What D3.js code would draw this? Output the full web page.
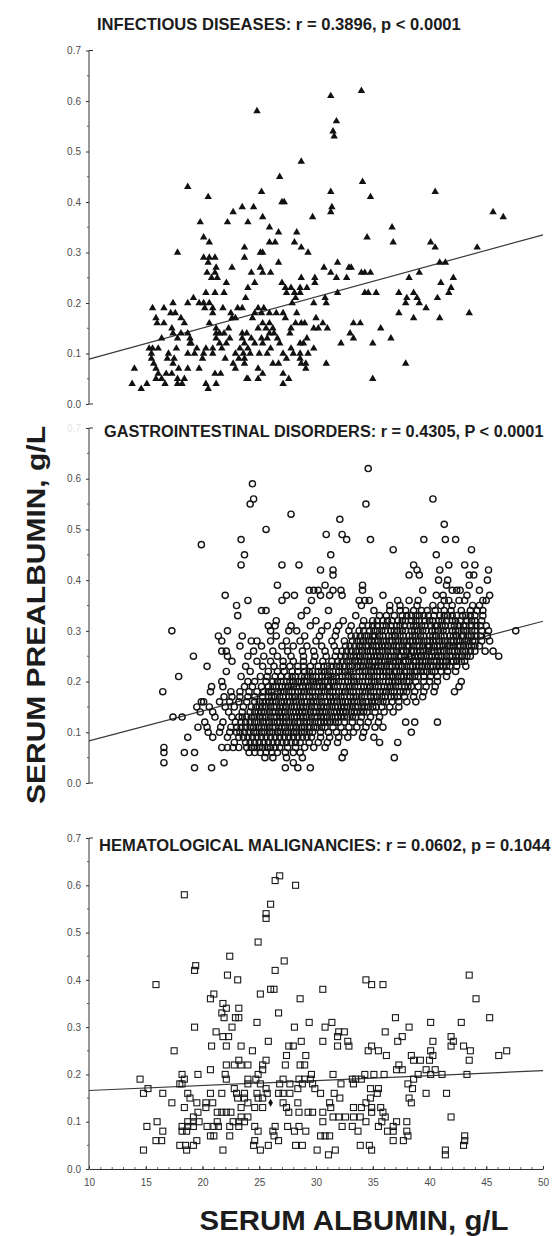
<!DOCTYPE html>
<meta charset="utf-8">
<style>
  body { margin: 0; background: #fff; }
  text { font-family: "Liberation Sans", Arial, sans-serif; }
  .tick text { fill: #4d4d4d; font-size: 10px; }
</style>
<body>
<script src="https://d3js.org/d3.v7.min.js"></script>
<script>
    // chart values
    var titles = [
        "INFECTIOUS DISEASES: r = 0.3896, p < 0.0001",
        "GASTROINTESTINAL DISORDERS: r = 0.4305, P < 0.0001",
        "HEMATOLOGICAL MALIGNANCIES: r = 0.0602, p = 0.1044"
    ];
    var xTitle = "SERUM ALBUMIN, g/L";
    var yTitle = "SERUM PREALBUMIN, g/L";
    var xTicks = [10, 15, 20, 25, 30, 35, 40, 45, 50];
    var yTicks = [0, 0.1, 0.2, 0.3, 0.4, 0.5, 0.6, 0.7];

    // [albumin, prealbumin]
    var infectious = [
        [34.0,.62],[31.3,.61],[24.8,.58],[31.8,.56],[31.5,.54],[31.6,.53],[28.7,.48],[26.8,.45],[34.1,.44],[18.7,.43],
        [20.5,.41],[25.2,.42],[31.3,.42],[34.8,.41],[40.5,.42],[27.0,.40],[27.2,.40],[31.4,.39],[31.3,.38],[23.5,.39],
        [24.5,.39],[22.7,.38],[19.8,.36],[22.2,.36],[24.0,.36],[25.3,.37],[29.7,.37],[45.6,.38],[46.5,.37],[36.7,.35],
        [25.9,.35],[26.7,.34],[28.3,.34],[20.1,.33],[34.5,.33],[20.6,.32],[25.9,.32],[26.4,.32],[28.1,.32],[36.8,.32],
        [40.1,.32],[40.5,.31],[23.7,.31],[28.7,.31],[44.2,.31],[17.8,.30],[25.1,.30],[25.3,.30],[29.3,.30],[20.1,.29],
        [20.6,.29],[21.1,.29],[23.7,.29],[20.5,.28],[26.7,.28],[31.9,.28],[40.9,.28],[41.4,.28],[22.6,.27],[21.2,.27],
        [25.1,.27],[30.7,.27],[32.9,.27],[33.1,.27],[20.4,.26],[21.1,.26],[24.3,.26],[25.3,.26],[26.0,.26],[31.3,.26],
        [34.0,.26],[34.3,.26],[34.8,.26],[39.1,.26],[20.8,.25],[21.3,.25],[28.7,.25],[29.9,.25],[31.8,.25],[32.7,.25],
        [38.2,.25],[42.1,.25],[24.6,.24],[29.9,.24],[27.0,.24],[41.0,.24],[22.1,.24],[27.3,.23],[27.8,.23],[28.6,.23],
        [29.2,.23],[24.0,.23],[41.9,.23],[20.3,.22],[21.1,.22],[21.9,.22],[27.4,.22],[28.1,.22],[28.6,.22],[31.9,.22],
        [34.3,.22],[34.6,.22],[35.3,.22],[37.3,.22],[38.6,.22],[41.7,.22],[19.2,.21],[23.8,.21],[28.2,.21],[30.8,.21],
        [38.0,.21],[38.9,.21],[40.7,.21],[18.7,.20],[19.7,.20],[20.1,.20],[20.6,.20],[27.9,.20],[29.8,.20],[30.9,.20],
        [37.9,.20],[39.1,.20],[17.4,.20],[15.6,.19],[16.6,.19],[20.2,.19],[20.9,.19],[21.8,.19],[23.1,.19],[23.5,.19],
        [24.9,.19],[25.4,.19],[39.7,.19],[17.2,.18],[17.6,.18],[20.9,.18],[22.5,.18],[24.6,.18],[25.2,.18],[25.9,.18],
        [26.5,.18],[27.1,.18],[28.3,.18],[37.3,.18],[43.5,.18],[15.9,.17],[18.1,.17],[22.6,.17],[22.9,.17],[27.3,.17],
        [30.0,.17],[38.6,.17],[40.9,.17],[16.0,.16],[16.6,.16],[18.4,.16],[20.6,.16],[25.3,.16],[25.9,.16],[28.2,.16],
        [28.7,.16],[29.0,.16],[30.6,.16],[33.3,.16],[33.9,.16],[17.3,.15],[21.2,.15],[24.9,.15],[25.6,.15],[26.2,.15],
        [29.8,.15],[30.2,.15],[31.0,.15],[35.7,.15],[17.4,.14],[18.1,.14],[18.7,.14],[21.2,.14],[21.5,.14],[21.9,.14],
        [23.5,.14],[23.9,.14],[25.9,.14],[26.3,.14],[27.7,.14],[33.0,.14],[16.4,.13],[17.8,.13],[18.9,.13],[21.2,.13],
        [22.4,.13],[23.5,.13],[24.3,.13],[25.2,.13],[25.7,.13],[29.2,.13],[33.3,.13],[36.6,.13],[18.9,.12],[21.5,.12],
        [22.1,.12],[23.7,.12],[24.6,.12],[25.3,.12],[26.8,.12],[28.6,.12],[28.9,.12],[32.2,.12],[35.0,.12],[15.3,.11],
        [15.6,.11],[16.1,.11],[17.7,.11],[19.5,.11],[20.3,.11],[20.9,.11],[21.7,.11],[23.3,.11],[24.0,.11],[27.8,.11],
        [29.8,.11],[15.5,.10],[17.0,.10],[18.7,.10],[20.1,.10],[20.9,.10],[22.9,.10],[23.6,.10],[24.2,.10],[25.0,.10],
        [25.7,.10],[27.1,.10],[28.0,.10],[28.6,.10],[29.3,.10],[15.5,.09],[16.9,.09],[17.5,.09],[20.0,.09],[23.2,.09],
        [23.7,.09],[27.4,.09],[28.6,.09],[15.7,.08],[17.4,.08],[22.7,.08],[23.7,.08],[26.2,.08],[26.7,.08],[28.7,.08],
        [29.1,.08],[30.9,.08],[37.9,.08],[14.0,.07],[15.9,.07],[17.9,.07],[18.7,.07],[19.7,.07],[22.9,.07],[24.9,.07],
        [29.1,.07],[16.1,.06],[16.8,.06],[17.3,.06],[21.1,.06],[21.6,.06],[25.3,.06],[27.1,.06],[15.9,.05],[16.4,.05],
        [17.8,.05],[18.4,.05],[23.9,.05],[24.0,.05],[24.9,.05],[27.6,.05],[35.0,.05],[13.8,.04],[15.1,.04],[16.7,.04],
        [17.8,.04],[18.2,.04],[20.3,.04],[21.2,.04],[27.1,.04],[14.6,.03],[20.5,.03],[19.0,.12],[19.3,.10],[22.3,.15],
        [24.4,.17],[26.6,.13],[27.8,.15],[22.0,.09],[26.0,.11]
    ];

    // [prealbumin, albumin values at that level]
    var gastroRows = [
        [.62, [34.6]],
        [.59, [24.4]],
        [.56, [24.5, 40.3]],
        [.55, [24.2, 34.4]],
        [.53, [27.8]],
        [.52, [32.1]],
        [.51, [41.3]],
        [.50, [25.6]],
        [.49, [30.9, 32.3]],
        [.48, [23.4, 32.7, 34.8, 39.5, 41.4, 42.3]],
        [.47, [19.9]],
        [.46, [36.8, 43.7]],
        [.45, [23.7, 31.3, 40.6]],
        [.43, [23.4, 27.0, 28.5, 38.6, 41.7, 43.1, 44.0]],
        [.42, [30.4, 31.5, 38.9, 40.9, 45.2]],
        [.41, [31.5, 38.2, 39.1, 43.5, 43.9]],
        [.40, [40.8, 41.6, 45.1]],
        [.39, [26.6, 30.8, 34.1, 41.5, 43.5]],
        [.38, [29.4, 29.8, 30.2, 31.5, 32.2, 34.1, 39.4, 42.0, 42.4, 42.7, 44.4]],
        [.37, [22.0, 27.4, 28.1, 30.4, 31.2, 32.3, 35.9, 40.6, 41.2, 43.3, 45.3]],
        [.36, [24.0, 27.0, 29.6, 33.8, 34.3, 34.7, 37.2, 38.2, 39.0, 41.3, 41.7, 42.6, 43.1, 44.7, 45.0]],
        [.35, [23.0, 34.0, 36.5, 37.4, 38.9, 40.3, 41.0, 42.0, 43.8, 44.4]],
        [.34, [25.2, 25.6, 29.2, 31.1, 35.1, 36.5, 37.4, 37.9, 38.6, 39.3, 39.8, 40.5, 41.3, 41.9, 42.8, 43.6, 44.2, 44.7]],
        [.33, [23.1, 28.7, 33.5, 35.6, 36.2, 36.9, 37.6, 38.0, 38.4, 38.8, 39.1, 39.5, 39.9, 40.4, 40.9, 41.3, 41.6, 42.0, 42.4, 42.9, 43.2, 43.6, 44.0, 44.7]],
        [.32, [26.5, 30.0, 32.4, 34.2, 35.0, 35.4, 35.9, 36.3, 36.7, 37.2, 37.6, 37.9, 38.4, 38.8, 39.1, 39.6, 40.0, 40.3, 40.8, 41.1, 41.5, 42.0, 42.3, 42.7, 43.3, 43.7, 44.0, 44.6]],
        [.31, [25.8, 26.4, 27.8, 29.5, 31.0, 32.0, 33.1, 34.1, 34.6, 35.0, 35.4, 35.9, 36.2, 36.6, 37.1, 37.4, 37.8, 38.3, 38.6, 38.9, 39.3, 39.6, 40.1, 40.5, 40.7, 41.1, 41.4, 41.9, 42.2, 42.6, 43.0, 43.2, 43.7, 44.1, 44.5, 45.0]],
        [.30, [17.3, 22.2, 26.0, 27.6, 28.3, 30.5, 31.8, 32.9, 33.8, 34.2, 34.7, 35.1, 35.4, 35.8, 36.1, 36.6, 36.9, 37.2, 37.6, 37.9, 38.4, 38.7, 39.0, 39.4, 39.7, 40.2, 40.5, 40.8, 41.2, 41.5, 42.0, 42.3, 42.6, 43.0, 43.3, 43.7, 44.0, 44.6, 45.2, 47.6]],
        [.29, [21.4, 23.5, 26.5, 29.0, 30.3, 31.7, 33.1, 33.5, 33.9, 34.3, 34.6, 35.0, 35.2, 35.6, 35.9, 36.4, 36.7, 37.0, 37.4, 37.7, 38.2, 38.5, 38.8, 39.2, 39.5, 40.0, 40.3, 40.6, 41.0, 41.3, 41.8, 42.1, 42.4, 42.8, 43.0, 43.4, 43.7, 44.1, 44.5, 45.1]],
        [.28, [21.7, 24.3, 24.8, 26.0, 27.4, 28.6, 30.0, 31.4, 32.5, 33.2, 33.6, 33.9, 34.2, 34.6, 34.9, 35.2, 35.5, 35.9, 36.2, 36.5, 36.7, 37.0, 37.3, 37.7, 38.0, 38.3, 38.5, 38.8, 39.1, 39.5, 39.8, 40.0, 40.3, 40.6, 40.9, 41.3, 41.6, 41.9, 42.1, 42.4, 42.7, 43.1, 43.4, 43.8, 44.0, 44.6, 45.3]],
        [.27, [23.3, 25.2, 27.0, 28.0, 29.2, 30.5, 31.6, 32.6, 33.0, 33.4, 33.8, 34.1, 34.4, 34.6, 35.0, 35.3, 35.5, 35.8, 36.1, 36.4, 36.8, 37.1, 37.3, 37.6, 38.0, 38.2, 38.6, 38.9, 39.1, 39.4, 39.8, 40.0, 40.4, 40.7, 40.9, 41.2, 41.6, 41.8, 42.1, 42.5, 42.7, 43.0, 43.4, 43.7, 44.0, 44.4]],
        [.26, [21.7, 22.1, 24.5, 26.2, 27.5, 28.8, 29.8, 30.8, 31.8, 32.3, 32.7, 33.1, 33.5, 33.8, 34.1, 34.5, 34.8, 35.0, 35.3, 35.6, 35.9, 36.3, 36.6, 36.8, 37.1, 37.5, 37.7, 38.0, 38.4, 38.6, 38.9, 39.2, 39.5, 39.9, 40.2, 40.4, 40.7, 41.0, 41.3, 41.7, 42.0, 42.2, 42.5, 42.9, 43.2, 43.6, 44.0, 44.9, 45.6]],
        [.25, [19.2, 22.2, 24.0, 25.4, 26.6, 27.8, 28.9, 29.9, 30.9, 31.7, 32.2, 32.6, 33.0, 33.3, 33.6, 33.9, 34.3, 34.6, 34.8, 35.1, 35.4, 35.7, 36.1, 36.4, 36.6, 36.9, 37.3, 37.5, 37.8, 38.2, 38.4, 38.7, 39.0, 39.3, 39.7, 40.0, 40.2, 40.5, 40.8, 41.1, 41.5, 41.8, 42.0, 42.3, 42.6, 42.9, 43.3, 43.6, 46.1]],
        [.24, [22.6, 24.8, 26.0, 27.1, 28.0, 28.9, 29.8, 30.6, 31.4, 31.9, 32.3, 32.7, 33.0, 33.4, 33.7, 34.0, 34.3, 34.7, 35.0, 35.2, 35.5, 35.8, 36.1, 36.5, 36.8, 37.0, 37.3, 37.7, 37.9, 38.2, 38.6, 38.8, 39.1, 39.4, 39.7, 40.1, 40.4, 40.6, 40.9, 41.2, 41.5, 41.9, 42.1, 42.4, 42.8, 43.1]],
        [.23, [20.4, 23.8, 25.3, 26.3, 27.1, 27.7, 28.4, 28.9, 29.5, 30.2, 30.7, 31.0, 31.4, 31.8, 32.1, 32.5, 32.9, 33.2, 33.6, 33.9, 34.2, 34.6, 34.9, 35.2, 35.5, 35.8, 36.2, 36.5, 36.7, 37.0, 37.3, 37.6, 38.0, 38.3, 38.5, 38.8, 39.1, 39.4, 39.8, 40.1, 40.3, 40.6, 40.9, 41.2, 41.5, 41.8, 42.4, 43.2]],
        [.22, [22.1, 24.2, 25.8, 26.6, 27.2, 27.9, 28.4, 29.0, 29.4, 29.7, 30.2, 30.5, 30.8, 31.2, 31.5, 32.0, 32.3, 32.6, 33.0, 33.3, 33.8, 34.1, 34.4, 34.8, 35.1, 35.4, 35.6, 35.9, 36.2, 36.5, 36.9, 37.1, 37.4, 37.8, 38.0, 38.3, 38.7, 38.9, 39.2, 39.5, 39.8, 40.2, 40.5, 41.0, 41.6, 42.3]],
        [.21, [17.9, 23.4, 25.1, 25.7, 26.4, 26.9, 27.5, 27.9, 28.2, 28.7, 29.0, 29.3, 29.7, 30.0, 30.5, 30.8, 31.1, 31.5, 31.8, 32.3, 32.6, 32.9, 33.3, 33.6, 34.1, 34.4, 34.7, 35.1, 35.4, 35.9, 36.2, 36.5, 36.8, 37.2, 37.5, 37.7, 38.0, 38.3, 38.7, 39.0, 39.5, 40.1, 40.7, 41.5]],
        [.20, [21.7, 24.0, 24.6, 25.6, 26.2, 26.6, 26.9, 27.4, 27.7, 28.0, 28.4, 28.7, 29.0, 29.2, 29.5, 29.8, 30.2, 30.5, 30.8, 31.0, 31.3, 31.6, 32.0, 32.3, 32.8, 33.1, 33.4, 33.8, 34.1, 34.6, 34.9, 35.2, 35.6, 35.9, 36.4, 36.7, 37.0, 37.3, 37.7, 38.0, 38.2, 38.8, 39.5, 40.0, 40.7, 42.8]],
        [.19, [20.8, 21.8, 23.7, 24.4, 25.2, 25.8, 26.2, 26.5, 27.0, 27.3, 27.6, 28.0, 28.3, 28.8, 29.1, 29.4, 29.8, 30.1, 30.3, 30.6, 31.0, 31.2, 31.6, 31.9, 32.4, 32.7, 33.0, 33.4, 33.7, 34.2, 34.5, 34.8, 35.2, 35.5, 36.0, 36.3, 36.6, 37.0, 37.3, 37.8, 38.1, 38.4, 39.0, 39.7, 40.5, 42.6]],
        [.18, [16.5, 20.7, 22.5, 23.3, 24.1, 24.8, 25.4, 25.8, 26.1, 26.6, 26.9, 27.2, 27.6, 27.9, 28.4, 28.7, 29.0, 29.4, 29.7, 30.2, 30.5, 30.8, 31.2, 31.5, 32.0, 32.3, 32.6, 33.0, 33.3, 33.8, 34.1, 34.4, 34.8, 35.1, 35.6, 35.9, 36.2, 36.6, 36.9, 37.4, 37.7, 38.0, 38.7, 39.5, 40.4, 42.2]],
        [.17, [21.9, 22.6, 23.3, 24.0, 24.6, 25.3, 25.8, 26.1, 26.4, 26.8, 27.1, 27.6, 27.9, 28.2, 28.6, 28.9, 29.4, 29.7, 30.0, 30.4, 30.7, 31.2, 31.5, 31.8, 32.2, 32.5, 33.0, 33.3, 33.6, 34.0, 34.3, 34.8, 35.1, 35.4, 35.8, 36.1, 36.6, 36.9, 37.2, 37.8, 38.6, 39.4]],
        [.16, [19.9, 20.1, 21.5, 22.4, 23.2, 23.9, 24.6, 25.0, 25.3, 25.6, 25.9, 26.2, 26.5, 26.9, 27.2, 27.5, 27.7, 28.0, 28.3, 28.7, 29.0, 29.2, 29.5, 29.8, 30.1, 30.5, 30.8, 31.0, 31.3, 31.6, 31.9, 32.3, 32.6, 32.8, 33.1, 33.4, 33.7, 34.1, 34.4, 34.6, 34.9, 35.2, 35.5, 35.9, 36.2, 36.7, 37.3, 38.0, 38.8]],
        [.15, [19.5, 20.6, 22.0, 22.8, 23.6, 24.3, 24.7, 25.0, 25.3, 25.6, 26.0, 26.3, 26.5, 26.8, 27.1, 27.4, 27.8, 28.1, 28.3, 28.6, 28.9, 29.2, 29.6, 29.9, 30.1, 30.4, 30.7, 31.0, 31.4, 31.7, 31.9, 32.2, 32.5, 32.8, 33.2, 33.5, 33.7, 34.0, 34.3, 34.6, 35.0, 35.3, 35.8, 36.5, 37.3]],
        [.14, [19.8, 20.9, 22.3, 23.5, 24.2, 24.6, 24.9, 25.2, 25.5, 25.9, 26.2, 26.4, 26.7, 27.0, 27.3, 27.7, 28.0, 28.2, 28.5, 28.8, 29.1, 29.5, 29.8, 30.0, 30.3, 30.6, 30.9, 31.3, 31.6, 31.8, 32.1, 32.4, 32.7, 33.1, 33.4, 33.6, 33.9, 34.2, 34.5, 35.2, 36.0, 36.8]],
        [.13, [17.4, 18.2, 21.1, 22.6, 23.2, 23.5, 23.9, 24.3, 24.6, 25.0, 25.3, 25.6, 26.0, 26.3, 26.5, 26.8, 27.1, 27.4, 27.8, 28.1, 28.3, 28.6, 28.9, 29.2, 29.6, 29.9, 30.1, 30.4, 30.7, 31.0, 31.4, 31.7, 31.9, 32.2, 32.5, 32.8, 33.2, 33.5, 34.0, 34.8, 35.6]],
        [.12, [20.2, 21.8, 22.9, 23.4, 23.8, 24.2, 24.6, 24.9, 25.3, 25.6, 25.9, 26.3, 26.6, 26.8, 27.1, 27.4, 27.7, 28.1, 28.4, 28.6, 28.9, 29.2, 29.5, 29.9, 30.2, 30.4, 30.7, 31.0, 31.3, 31.7, 32.0, 32.5, 33.2, 33.9, 34.6, 35.5, 37.9, 38.7, 40.7]],
        [.11, [19.6, 20.4, 21.6, 22.5, 23.0, 23.4, 23.8, 24.2, 24.5, 24.9, 25.2, 25.5, 25.9, 26.2, 26.4, 26.7, 27.0, 27.3, 27.7, 28.0, 28.3, 28.7, 29.0, 29.4, 29.8, 30.1, 30.5, 30.8, 31.5, 32.2, 32.9, 33.6, 34.4, 35.2, 35.9]],
        [.10, [20.5, 21.5, 22.4, 23.0, 23.3, 23.7, 24.1, 24.5, 24.8, 25.2, 25.5, 25.9, 26.2, 26.6, 26.9, 27.3, 27.6, 28.0, 28.3, 28.7, 29.0, 29.4, 29.7, 30.4, 31.1, 31.8, 32.5, 33.3, 34.2, 38.4]],
        [.09, [18.7, 20.9, 22.2, 23.2, 23.6, 24.0, 24.4, 24.8, 25.2, 25.6, 26.0, 26.4, 26.8, 27.2, 27.6, 28.0, 28.4, 28.8, 29.2, 29.6, 30.4, 31.2, 32.0, 32.8, 34.1, 35.1]],
        [.08, [22.8, 23.8, 24.2, 24.6, 25.0, 25.4, 25.8, 26.2, 26.6, 27.0, 27.4, 27.8, 28.2, 28.6, 29.4, 30.2, 31.0, 31.9, 35.6, 37.2]],
        [.07, [16.6, 21.7, 22.2, 22.7, 23.2, 23.9, 24.3, 24.6, 25.0, 25.3, 25.7, 26.0, 26.4, 26.8, 27.5, 28.2, 29.0, 29.8, 30.8]],
        [.06, [16.6, 18.4, 19.3, 24.1, 24.6, 25.1, 25.6, 26.1, 26.6, 27.3, 28.0, 28.6, 32.5]],
        [.05, [25.5, 26.2, 27.4, 28.8, 32.3, 36.9]],
        [.04, [16.6, 21.9, 28.0]],
        [.03, [19.3, 20.8, 27.3, 28.4, 29.5]]
    ];

    var hematological = [
        [26.8,.62],[26.4,.61],[28.2,.60],[18.4,.58],[26.0,.56],[25.6,.54],[25.6,.53],[24.9,.48],[22.4,.45],[27.2,.44],
        [19.4,.43],[19.3,.42],[26.4,.42],[22.2,.41],[23.1,.40],[34.4,.40],[43.5,.41],[15.9,.39],[34.9,.39],[35.9,.39],
        [26.0,.38],[26.3,.38],[30.6,.38],[21.0,.37],[25.1,.37],[20.7,.36],[28.6,.36],[44.1,.36],[21.8,.35],[22.1,.34],
        [23.2,.34],[21.7,.33],[21.9,.32],[26.7,.33],[22.9,.32],[23.2,.32],[37.0,.32],[45.3,.32],[19.3,.30],[22.6,.30],
        [24.8,.31],[29.4,.31],[31.4,.31],[40.1,.31],[42.8,.31],[21.2,.29],[28.1,.30],[30.8,.30],[38.2,.30],[32.0,.29],
        [32.5,.29],[36.1,.29],[21.8,.28],[22.3,.28],[31.9,.28],[37.6,.28],[41.9,.28],[25.8,.27],[28.7,.27],[30.6,.27],
        [32.8,.27],[37.2,.27],[40.3,.27],[42.1,.27],[20.8,.26],[22.1,.26],[23.4,.26],[27.6,.26],[28.0,.26],[31.9,.26],
        [32.9,.26],[34.9,.26],[41.9,.26],[43.0,.26],[17.5,.25],[24.4,.25],[34.6,.25],[35.5,.25],[40.1,.25],[43.6,.25],
        [46.8,.25],[46.1,.24],[27.4,.24],[29.1,.24],[36.2,.24],[38.4,.24],[40.3,.24],[25.6,.23],[23.2,.23],[38.6,.23],
        [39.2,.23],[40.0,.23],[43.5,.23],[22.1,.22],[22.8,.22],[23.4,.22],[24.0,.22],[25.3,.22],[27.3,.22],[28.6,.22],
        [29.0,.22],[37.3,.22],[20.7,.21],[25.3,.21],[37.1,.21],[37.6,.21],[39.7,.21],[40.5,.21],[14.5,.19],[18.2,.20],
        [19.6,.20],[22.0,.20],[24.9,.20],[29.6,.20],[31.5,.20],[34.3,.20],[35.1,.20],[36.0,.20],[39.0,.20],[40.1,.20],
        [41.1,.20],[43.3,.20],[18.4,.19],[22.1,.19],[24.0,.19],[24.7,.19],[27.1,.19],[28.5,.19],[29.0,.19],[29.5,.19],
        [33.2,.19],[33.5,.19],[34.0,.19],[38.6,.19],[18.0,.18],[18.2,.18],[24.0,.18],[25.1,.18],[26.8,.18],[27.7,.18],
        [28.8,.18],[29.7,.18],[32.2,.18],[33.3,.18],[38.1,.18],[15.2,.17],[22.8,.17],[25.6,.17],[28.4,.17],[29.9,.17],
        [34.8,.17],[35.5,.17],[38.5,.17],[14.8,.16],[16.5,.16],[18.7,.16],[20.7,.16],[21.7,.16],[23.0,.16],[23.7,.16],
        [24.8,.16],[25.7,.16],[26.7,.16],[27.1,.16],[27.7,.16],[30.4,.16],[31.6,.16],[35.4,.16],[39.7,.16],[41.5,.16],
        [18.9,.15],[23.1,.15],[23.7,.15],[24.9,.15],[25.3,.15],[32.1,.15],[34.8,.15],[38.2,.15],[17.3,.14],[19.5,.14],
        [20.3,.14],[20.9,.14],[24.0,.14],[27.1,.14],[28.4,.14],[31.2,.14],[34.4,.14],[38.4,.14],[18.4,.13],[20.3,.13],
        [23.4,.13],[24.6,.13],[25.3,.13],[27.4,.13],[31.3,.13],[33.3,.13],[34.0,.13],[34.9,.13],[35.7,.13],[19.6,.12],
        [21.3,.12],[21.7,.12],[22.1,.12],[22.5,.12],[27.6,.12],[28.5,.12],[29.3,.12],[29.7,.12],[30.6,.12],[34.9,.12],
        [35.9,.12],[19.2,.11],[23.4,.11],[24.0,.11],[31.5,.11],[32.0,.11],[32.6,.11],[33.3,.11],[33.9,.11],[36.1,.11],
        [41.9,.11],[16.0,.10],[18.7,.10],[19.2,.10],[19.7,.10],[21.3,.10],[22.7,.10],[23.2,.10],[23.7,.10],[30.6,.10],
        [34.4,.10],[35.8,.10],[37.1,.10],[38.0,.10],[15.1,.09],[18.2,.09],[18.7,.09],[19.2,.09],[20.4,.09],[21.0,.09],
        [21.4,.09],[22.4,.09],[23.2,.09],[24.6,.09],[26.4,.09],[27.5,.09],[28.5,.09],[32.3,.09],[33.2,.09],[35.5,.09],
        [36.8,.09],[18.2,.08],[18.6,.08],[16.5,.08],[24.9,.08],[26.2,.08],[28.1,.08],[29.1,.08],[33.7,.08],[36.3,.08],
        [36.8,.08],[38.0,.08],[20.7,.07],[21.0,.07],[22.4,.07],[26.3,.07],[30.4,.07],[30.8,.07],[31.2,.07],[38.1,.07],
        [43.1,.07],[15.9,.06],[16.4,.06],[19.5,.06],[24.6,.06],[26.7,.06],[36.8,.06],[37.7,.06],[43.1,.06],[18.0,.05],
        [18.5,.05],[19.2,.05],[24.5,.05],[25.8,.05],[28.2,.05],[28.8,.05],[33.9,.05],[34.7,.05],[43.0,.05],[14.8,.04],
        [18.6,.04],[21.8,.04],[25.1,.04],[30.1,.04],[31.7,.04],[34.9,.04],[41.4,.04],[31.1,.03],[41.4,.03]
    ];
    var hemMean = [[26.0, .14]];

    // regression lines, end points
    var infFit = [[10, .089], [50, .335]];
    var giFit = [[10, .083], [50, .319]];
    var hemFit = [[10, .166], [50, .208]];

    var width = 556,
        height = 1236;

    var svg = d3.select("body").append("svg")
        .attr("width", width)
        .attr("height", height);

    svg.append("rect").attr("width", width).attr("height", height).attr("fill", "#fff");

    var x = d3.scaleLinear().domain([10, 50]).range([89, 543]);

    var panels = [
        {y0: 404, y1: 50.5, title: titles[0], tx: 97, ty: 29.5, tw: 364, ghostTop: false},
        {y0: 783, y1: 428, title: titles[1], tx: 104, ty: 437, tw: 440, ghostTop: true},
        {y0: 1169, y1: 838, title: titles[2], tx: 99, ty: 851, tw: 452, ghostTop: false}
    ];
    panels.forEach(function(p) {
        p.y = d3.scaleLinear().domain([0, 0.7]).range([p.y0, p.y1]);
    });

    var line = d3.line();

    // squeeze a text horizontally so it spans w pixels
    function squeeze(t, tx, ty, w, rot) {
        var k = w / t.node().getComputedTextLength();
        t.attr("transform", "translate(" + tx + "," + ty + ")" + (rot ? " rotate(-90)" : "") + " scale(" + k + ",1)");
    }

    function yAxis(p, bottomStub) {
        var g = svg.append("g").attr("transform", "translate(" + x(10) + ",0)");
        g.call(d3.axisLeft(p.y).tickValues(yTicks).tickSize(3).tickPadding(5).tickFormat(d3.format(".1f")));
        g.select(".domain").remove();
        g.selectAll(".tick line").attr("stroke", "#333");
        if (p.ghostTop) {
            g.selectAll(".tick text").filter(function(d) { return d === 0.7; }).style("fill", "#e4e4e4");
        }
        g.append("line")
            .attr("y1", p.y(0)).attr("y2", p.y(0.7))
            .attr("stroke", "#333").attr("stroke-width", 1);
        g.selectAll(".minor")
            .data(yTicks.slice(1).map(function(t) { return t - 0.05; }))
            .enter().append("line")
            .attr("x1", -2).attr("x2", 0)
            .attr("y1", function(d) { return p.y(d); })
            .attr("y2", function(d) { return p.y(d); })
            .attr("stroke", "#555");
        var stubs = bottomStub ? [0, 0.7] : [0.7];
        g.selectAll(".stub")
            .data(stubs)
            .enter().append("line")
            .attr("x1", 0).attr("x2", 4)
            .attr("y1", function(d) { return p.y(d); })
            .attr("y2", function(d) { return p.y(d); })
            .attr("stroke", "#333");
    }

    function title(p) {
        var t = svg.append("text")
            .attr("font-size", 17)
            .attr("font-weight", "bold")
            .attr("fill", "#1c1c1c")
            .text(p.title);
        squeeze(t, p.tx, p.ty, p.tw, false);
    }

    function fit(p, pts) {
        svg.append("path")
            .attr("d", line(pts.map(function(d) { return [x(d[0]), p.y(d[1])]; })))
            .attr("fill", "none")
            .attr("stroke", "#3a3a3a")
            .attr("stroke-width", 1.2);
    }

    // panel 1: infectious diseases, filled triangles
    var p1 = panels[0];
    yAxis(p1, true);
    fit(p1, infFit);
    svg.append("g")
        .selectAll("path")
        .data(infectious)
        .enter().append("path")
        .attr("d", d3.symbol(d3.symbolTriangle, 24))
        .attr("transform", function(d) { return "translate(" + x(d[0]) + "," + p1.y(d[1]) + ")"; })
        .attr("fill", "#111");
    title(p1);

    // panel 2: gastrointestinal disorders, open circles
    var p2 = panels[1];
    yAxis(p2, true);
    var gastro = gastroRows.flatMap(function(r) {
        return r[1].map(function(v) { return [v, r[0]]; });
    });
    fit(p2, giFit);
    svg.append("g")
        .selectAll("circle")
        .data(gastro)
        .enter().append("circle")
        .attr("cx", function(d) { return x(d[0]); })
        .attr("cy", function(d) { return p2.y(d[1]); })
        .attr("r", 3.1)
        .attr("fill", "none")
        .attr("stroke", "#141414")
        .attr("stroke-width", 1.4);
    title(p2);

    // panel 3: hematological malignancies, open squares
    var p3 = panels[2];
    yAxis(p3, false);
    var xg = svg.append("g").attr("transform", "translate(0," + p3.y0 + ")");
    xg.call(d3.axisBottom(x).tickValues(xTicks).tickSize(0).tickPadding(10));
    xg.select(".domain").attr("stroke", "#333");
    svg.append("g")
        .attr("transform", "translate(0," + p3.y0 + ")")
        .call(d3.axisTop(x).tickValues(d3.range(10, 51)).tickSize(2).tickFormat(""))
        .call(function(g) { g.select(".domain").remove(); })
        .selectAll(".tick line").attr("stroke", "#666");
    svg.append("g")
        .attr("transform", "translate(0," + p3.y0 + ")")
        .call(d3.axisTop(x).tickValues(xTicks).tickSize(3).tickFormat(""))
        .call(function(g) { g.select(".domain").remove(); })
        .selectAll(".tick line").attr("stroke", "#333");
    fit(p3, hemFit);
    svg.append("g")
        .selectAll("rect")
        .data(hematological)
        .enter().append("rect")
        .attr("x", function(d) { return x(d[0]) - 3; })
        .attr("y", function(d) { return p3.y(d[1]) - 3; })
        .attr("width", 6)
        .attr("height", 6)
        .attr("fill", "none")
        .attr("stroke", "#1a1a1a")
        .attr("stroke-width", 1.1);
    svg.append("g")
        .selectAll("path")
        .data(hemMean)
        .enter().append("path")
        .attr("d", d3.symbol(d3.symbolDiamond, 18))
        .attr("transform", function(d) { return "translate(" + x(d[0]) + "," + p3.y(d[1]) + ")"; })
        .attr("fill", "#111");
    title(p3);

    // axis titles
    var yt = svg.append("text")
        .attr("text-anchor", "middle")
        .attr("font-size", 26)
        .attr("font-weight", "bold")
        .attr("fill", "#1c1c1c")
        .text(yTitle);
    squeeze(yt, 45, 615, 378, true);

    var xt = svg.append("text")
        .attr("text-anchor", "middle")
        .attr("font-size", 27)
        .attr("font-weight", "bold")
        .attr("fill", "#1c1c1c")
        .text(xTitle);
    squeeze(xt, 354, 1230, 309, false);
</script>
</body>
